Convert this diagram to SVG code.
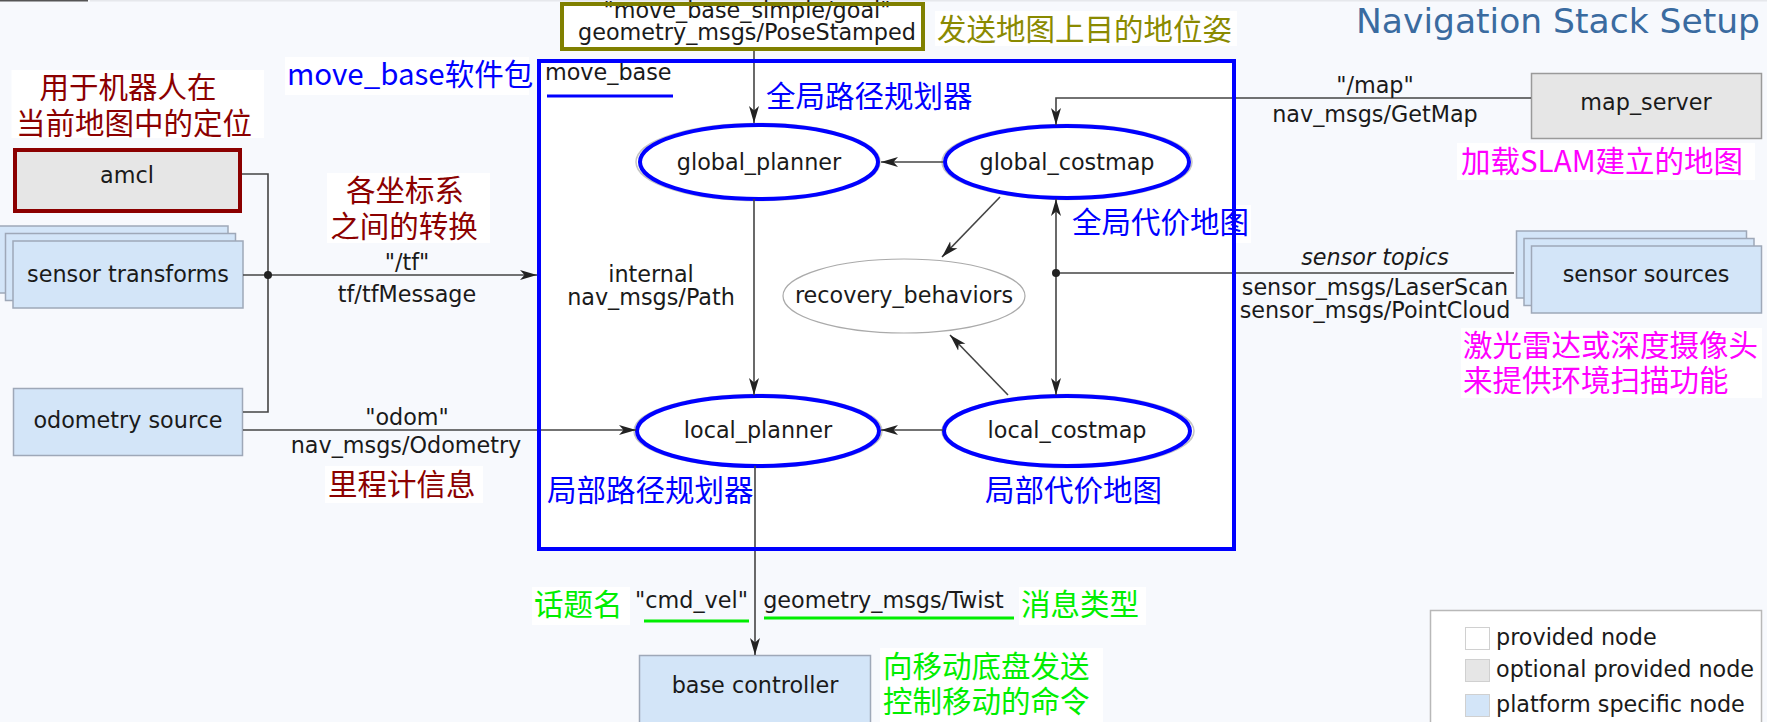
<svg xmlns="http://www.w3.org/2000/svg" width="1767" height="722" viewBox="0 0 1767 722">
<style>
.t{font-family:"DejaVu Sans","Liberation Sans",sans-serif;font-size:22.3px;fill:#1a1a1a}
.tm{text-anchor:middle}
.it{font-style:italic}
.cn{font-family:"Noto Sans CJK SC","Noto Sans",sans-serif;font-size:29.5px}
.bg{fill:#ffffff}
.plat{fill:#d3e5f8;stroke:#9ea8b8;stroke-width:1.5}
.opt{fill:#e6e6e6;stroke:#9a9a9a;stroke-width:1.5}
.ell{fill:#ffffff;stroke:#0000ff;stroke-width:4}
.sh{fill:none;stroke:#c4c4c4;stroke-width:1.5}
.ln{fill:none;stroke:#444;stroke-width:1.6}
.red{fill:#8b0000}
.blue{fill:#0000ff}
.green{fill:#00ee00}
.mag{fill:#ff00ff}
.olive{fill:#8a8a00}
</style>
<defs>
<marker id="ah" markerWidth="18" markerHeight="12" refX="17" refY="6" orient="auto" markerUnits="userSpaceOnUse">
<path d="M0,1 L17,6 L0,11 L4.5,6 Z" fill="#222"/>
</marker>
</defs>
<rect x="0" y="0" width="1767" height="722" fill="#f7f9fd"/>
<rect x="0" y="0" width="88" height="1.5" fill="#555"/>
<rect x="90" y="0" width="1677" height="1.5" fill="#e6e8ec"/>

<text class="t" x="1760" y="33" style="font-size:34.5px;fill:#3a6ba0;text-anchor:end">Navigation Stack Setup</text>

<g id="move_base">
<rect x="539" y="61" width="695" height="488" fill="#ffffff"/>
<text class="t" x="545" y="80">move_base</text>
<rect x="547" y="94.5" width="126" height="3" fill="#0000ff"/>
</g>

<g id="goal">
<rect x="562" y="4" width="361" height="45" fill="#ffffff"/>
<text class="t tm" x="747" y="18">"move_base_simple/goal"</text>
<text class="t tm" x="747" y="40">geometry_msgs/PoseStamped</text>
<rect x="562" y="4" width="361" height="45" fill="none" stroke="#808000" stroke-width="4"/>
</g>

<g id="amcl">
<rect x="15" y="150" width="225" height="61" fill="#e6e6e6" stroke="#8b0000" stroke-width="4"/>
<text class="t tm" x="127" y="183">amcl</text>
</g>

<g id="sensor_transforms">
<rect x="-2" y="226" width="230" height="67" class="plat"/>
<rect x="5.5" y="233.5" width="230" height="67" class="plat"/>
<rect x="13" y="241" width="230" height="67" class="plat"/>
<text class="t tm" x="128" y="282">sensor transforms</text>
</g>

<g id="odometry_source">
<rect x="13.5" y="388.5" width="229" height="67" class="plat"/>
<text class="t tm" x="128" y="428">odometry source</text>
</g>

<g id="map_server">
<rect x="1531.5" y="73.5" width="230" height="65" class="opt"/>
<text class="t tm" x="1646" y="110">map_server</text>
</g>

<g id="sensor_sources">
<rect x="1516.5" y="231" width="230" height="67" class="plat"/>
<rect x="1524" y="238.5" width="230" height="67" class="plat"/>
<rect x="1531.5" y="246" width="230" height="67" class="plat"/>
<text class="t tm" x="1646" y="282">sensor sources</text>
</g>

<g id="base_controller">
<rect x="639.5" y="655.5" width="231" height="72" class="plat"/>
<text class="t tm" x="755" y="693">base controller</text>
</g>

<g id="global_planner">
<ellipse cx="758" cy="162" rx="122" ry="38.5" class="sh"/>
<ellipse cx="759" cy="162" rx="119" ry="37" class="ell"/>
<text class="t tm" x="759" y="170">global_planner</text>
</g>

<g id="global_costmap">
<ellipse cx="1067" cy="162" rx="125" ry="37.5" class="sh"/>
<ellipse cx="1067" cy="162" rx="122" ry="36" class="ell"/>
<text class="t tm" x="1067" y="170">global_costmap</text>
</g>

<g id="recovery_behaviors">
<ellipse cx="904" cy="296" rx="121" ry="37" fill="#ffffff" stroke="#aaaaaa" stroke-width="1.2"/>
<text class="t tm" x="904" y="303">recovery_behaviors</text>
</g>

<g id="local_planner">
<ellipse cx="758" cy="431" rx="124" ry="36.5" class="sh"/>
<ellipse cx="758" cy="431" rx="121" ry="35" class="ell"/>
<text class="t tm" x="758" y="438">local_planner</text>
</g>

<g id="local_costmap">
<ellipse cx="1068" cy="431" rx="126" ry="36.5" class="sh"/>
<ellipse cx="1067" cy="431" rx="123" ry="35" class="ell"/>
<text class="t tm" x="1067" y="438">local_costmap</text>
</g>

<g id="connectors">
<path class="ln" d="M242,174 H268 V412 H243"/>
<path class="ln" d="M243,275 H537" marker-end="url(#ah)"/>
<circle cx="268" cy="275" r="4" fill="#222"/>
<path class="ln" d="M754,51 V123" marker-end="url(#ah)"/>
<path class="ln" d="M1531,98 H1056 V125" marker-end="url(#ah)"/>
<path class="ln" d="M943,162 H881" marker-end="url(#ah)"/>
<path class="ln" d="M1000,197 L942,257" marker-end="url(#ah)"/>
<path class="ln" d="M1514,273 H1056"/>
<path class="ln" d="M1056,273 V199" marker-end="url(#ah)"/>
<path class="ln" d="M1056,273 V395" marker-end="url(#ah)"/>
<circle cx="1056" cy="273" r="4" fill="#222"/>
<path class="ln" d="M754,199 V395" marker-end="url(#ah)"/>
<path class="ln" d="M943,430 H881" marker-end="url(#ah)"/>
<path class="ln" d="M243,430 H636" marker-end="url(#ah)"/>
<path class="ln" d="M1008,395 L950,335" marker-end="url(#ah)"/>
<path class="ln" d="M755,466 V655" marker-end="url(#ah)"/>
<text class="t tm" x="407" y="270">"/tf"</text>
<text class="t tm" x="407" y="302">tf/tfMessage</text>
<text class="t tm" x="407" y="425">"odom"</text>
<text class="t tm" x="406" y="453">nav_msgs/Odometry</text>
<text class="t tm" x="651" y="282">internal</text>
<text class="t tm" x="651" y="305">nav_msgs/Path</text>
<text class="t tm" x="1375" y="93">"/map"</text>
<text class="t tm" x="1375" y="122">nav_msgs/GetMap</text>
<text class="t tm it" x="1375" y="265">sensor topics</text>
<text class="t tm" x="1375" y="295">sensor_msgs/LaserScan</text>
<text class="t tm" x="1375" y="318">sensor_msgs/PointCloud</text>
<text class="t tm" x="691.5" y="608">"cmd_vel"</text>
<rect x="644" y="619.5" width="105" height="3" fill="#00ee00"/>
<text class="t tm" x="883.5" y="608">geometry_msgs/Twist</text>
<rect x="764" y="616.5" width="250" height="3" fill="#00ee00"/>
</g>

<g id="annotations">
<rect class="bg" x="11.5" y="70" width="252.5" height="68"/>
<text class="cn red tm" x="128" y="98">用于机器人在</text>
<text class="cn red tm" x="134" y="134">当前地图中的定位</text>
<rect class="bg" x="327" y="173" width="163" height="70"/>
<text class="cn red tm" x="405" y="201">各坐标系</text>
<text class="cn red tm" x="404" y="237">之间的转换</text>
<rect class="bg" x="285" y="57" width="244" height="38"/>
<text class="cn blue" x="287" y="85">move_base软件包</text>
<rect class="bg" x="935" y="11" width="302" height="35"/>
<text class="cn olive" x="937" y="40">发送地图上目的地位姿</text>
<text class="cn blue" x="766" y="107">全局路径规划器</text>
<rect class="bg" x="1070" y="205" width="181" height="38"/>
<text class="cn blue" x="1072" y="233">全局代价地图</text>
<text class="cn blue" x="547" y="501">局部路径规划器</text>
<text class="cn blue" x="985" y="501">局部代价地图</text>
<rect class="bg" x="325" y="466" width="158" height="37"/>
<text class="cn red" x="328" y="495">里程计信息</text>
<rect class="bg" x="532" y="587" width="98" height="38"/>
<text class="cn green" x="534" y="615">话题名</text>
<rect class="bg" x="1019" y="587" width="127" height="38"/>
<text class="cn green" x="1021" y="615">消息类型</text>
<rect class="bg" x="880" y="648" width="223" height="74"/>
<text class="cn green" x="883" y="677">向移动底盘发送</text>
<text class="cn green" x="883" y="712">控制移动的命令</text>
<rect class="bg" x="1457" y="143" width="298" height="37"/>
<text class="cn mag" x="1461" y="172">加载SLAM建立的地图</text>
<rect class="bg" x="1461" y="328" width="301" height="70"/>
<text class="cn mag" x="1463" y="356">激光雷达或深度摄像头</text>
<text class="cn mag" x="1463" y="391">来提供环境扫描功能</text>
</g>

<g id="move_base_border">
<rect x="539" y="61" width="695" height="488" fill="none" stroke="#0000ff" stroke-width="4"/>
</g>

<g id="legend">
<rect x="1430.5" y="610.5" width="331" height="120" fill="#ffffff" stroke="#b8b8b8" stroke-width="1.5"/>
<rect x="1465.5" y="627.5" width="24" height="22" fill="#ffffff" stroke="#d0d0d0"/>
<rect x="1465.5" y="659.5" width="24" height="22" fill="#e6e6e6" stroke="#d0d0d0"/>
<rect x="1465.5" y="694.5" width="24" height="22" fill="#d3e5f8" stroke="#d0d0d0"/>
<text class="t" x="1496" y="645">provided node</text>
<text class="t" x="1496" y="677">optional provided node</text>
<text class="t" x="1496" y="712">platform specific node</text>
</g>
</svg>
